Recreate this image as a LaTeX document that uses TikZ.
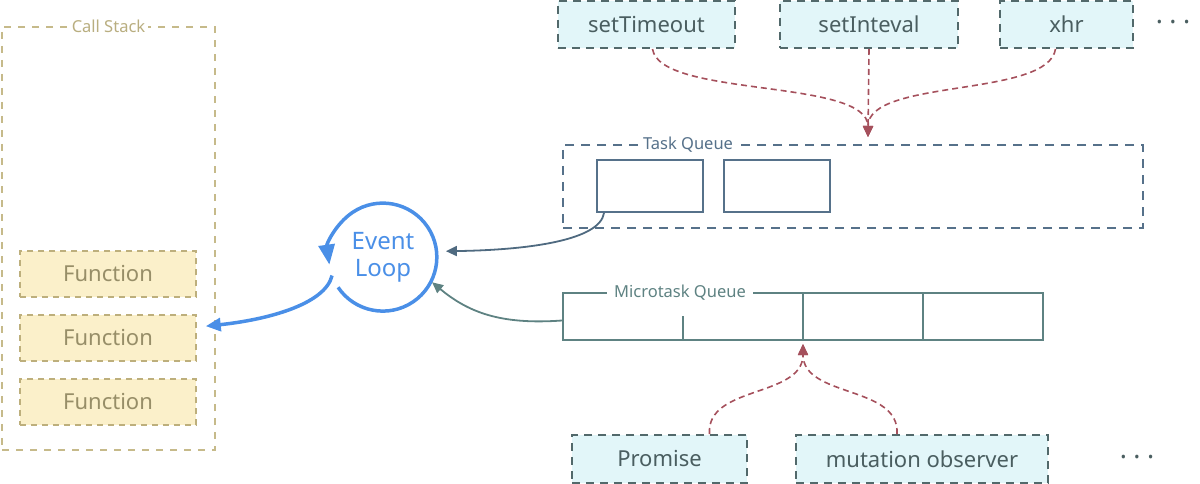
\documentclass[tikz,border=0pt]{standalone}
\usepackage{fontspec}
\setmainfont{Noto Sans}
\usetikzlibrary{arrows.meta}
\definecolor{tanline}{HTML}{C6BA8A}
\definecolor{tantext}{HTML}{B9AE80}
\definecolor{fnfill}{HTML}{FBF0CA}
\definecolor{fnline}{HTML}{BDAF7C}
\definecolor{fntext}{HTML}{978E68}
\definecolor{loopblue}{HTML}{4A8FE7}
\definecolor{slate}{HTML}{56718A}
\definecolor{slatearrow}{HTML}{4F6A80}
\definecolor{teal}{HTML}{5E8282}
\definecolor{apifill}{HTML}{E2F6F9}
\definecolor{apiline}{HTML}{52696B}
\definecolor{apitext}{HTML}{4A5E60}
\definecolor{reddash}{HTML}{A5505C}
\begin{document}
\begin{tikzpicture}[x=1pt,y=-1pt,
  fnbox/.style={draw=fnline, fill=fnfill, line width=1.6pt, dash pattern=on 6pt off 5pt,
    minimum width=176pt, minimum height=46pt, text=fntext, font=\fontsize{22}{26}\selectfont},
  apibox/.style={draw=apiline, fill=apifill, line width=2pt, dash pattern=on 8pt off 6pt,
    minimum height=47pt, text=apitext, font=\fontsize{22}{26}\selectfont},
  cell/.style={draw=slate, line width=2pt, minimum width=106pt, minimum height=52pt},
  lbl/.style={fill=white, inner xsep=4pt, inner ysep=1pt, font=\fontsize{16.5}{19}\selectfont},
  dots/.style={text=apitext, font=\fontsize{15}{18}\selectfont},
  redarrow/.style={draw=reddash, line width=1.6pt, dash pattern=on 6pt off 4pt,
    -{Triangle[length=11pt,width=10pt]}},
]
\useasboundingbox (0,0) rectangle (1200,484);

% Call stack
\node[draw=tanline, line width=1.8pt, dash pattern=on 7pt off 7pt,
  minimum width=213pt, minimum height=423pt] (cs) at (108.5,238.5) {};
\node[lbl, text=tantext, inner xsep=3pt] (cslbl) at (cs.north) {Call Stack};
\node[fnbox] (f1) at (108,274) {Function};
\node[fnbox] (f2) at (108,338) {Function};
\node[fnbox] (f3) at (108,402) {Function};

% Event loop
\node[circle, minimum size=108pt, text=loopblue, align=center,
  font=\fontsize{24}{27}\selectfont] (el) at (383,257) {Event\\Loop};
\draw[loopblue, line width=3.5pt, -{Triangle[length=20pt,width=16pt]}]
  (el.214) arc[start angle=214, end angle=548, radius=54pt];
\draw[loopblue, line width=3.5pt, -{Triangle[length=15pt,width=13pt]}, shorten >=9pt]
  (el.200) .. controls (325,305) and (265,320) .. (f2.7);

% Web APIs
\node[apibox, minimum width=177pt] (st) at (646.5,24.5) {setTimeout};
\node[apibox, minimum width=178pt] (si) at (869,24.5) {setInteval};
\node[apibox, minimum width=133pt] (xhr) at (1066.5,24.5) {xhr};
\node[dots] (d1) at (1173,24) {•\hspace{8pt}•\hspace{8pt}•};

% Task queue
\node[draw=slate, line width=2pt, dash pattern=on 9pt off 7pt,
  minimum width=580pt, minimum height=83pt] (tq) at (853,186.5) {};
\node[lbl, text=slate] (tqlbl) at (688,145) {Task Queue};
\node[cell] (tb1) at (650,186) {};
\node[cell] (tb2) at (777,186) {};

\coordinate (tqin) at (868,137);
\draw[redarrow] ([xshift=6pt]st.south) .. controls (660,98) and (868,78) .. (tqin);
\draw[redarrow] (si.south) -- (tqin);
\draw[redarrow] ([xshift=-11pt]xhr.south) .. controls (1048,98) and (868,78) .. (tqin);

% Microtask queue
\node[draw=teal, line width=2pt, minimum width=480pt, minimum height=47pt] (mq) at (803,316.5) {};
\draw[teal, line width=2pt] (683,316) -- (683,340);
\draw[teal, line width=2pt] (803,293) -- (803,340);
\draw[teal, line width=2pt] (923,293) -- (923,340);
\node[lbl, text=teal, inner xsep=7pt] (mqlbl) at (680,293) {Microtask Queue};
\coordinate (mqin) at (803,344);

% Loop inputs
\draw[slatearrow, line width=1.8pt, -{Triangle[length=11pt,width=10pt]}, shorten >=9pt]
  ([xshift=8pt]tb1.south west) .. controls (600,240) and (530,250) .. (el.6);
\draw[teal, line width=1.8pt, -{Triangle[length=11pt,width=10pt]}, shorten >=1pt]
  ([yshift=-4pt]mq.west) .. controls (500,325) and (468,312) .. (el.-27);

% Microtask sources
\node[apibox, minimum width=175pt, minimum height=48pt] (pr) at (659.5,459) {Promise};
\node[apibox, minimum width=252pt, minimum height=48pt] (mo) at (922,459) {mutation observer};
\node[dots] (d2) at (1137,459) {•\hspace{8pt}•\hspace{8pt}•};
\draw[redarrow] ([xshift=50pt]pr.north) .. controls (706,385) and (803,398) .. (mqin);
\draw[redarrow] ([xshift=-25pt]mo.north) .. controls (900,385) and (803,398) .. (mqin);
\end{tikzpicture}
\end{document}
